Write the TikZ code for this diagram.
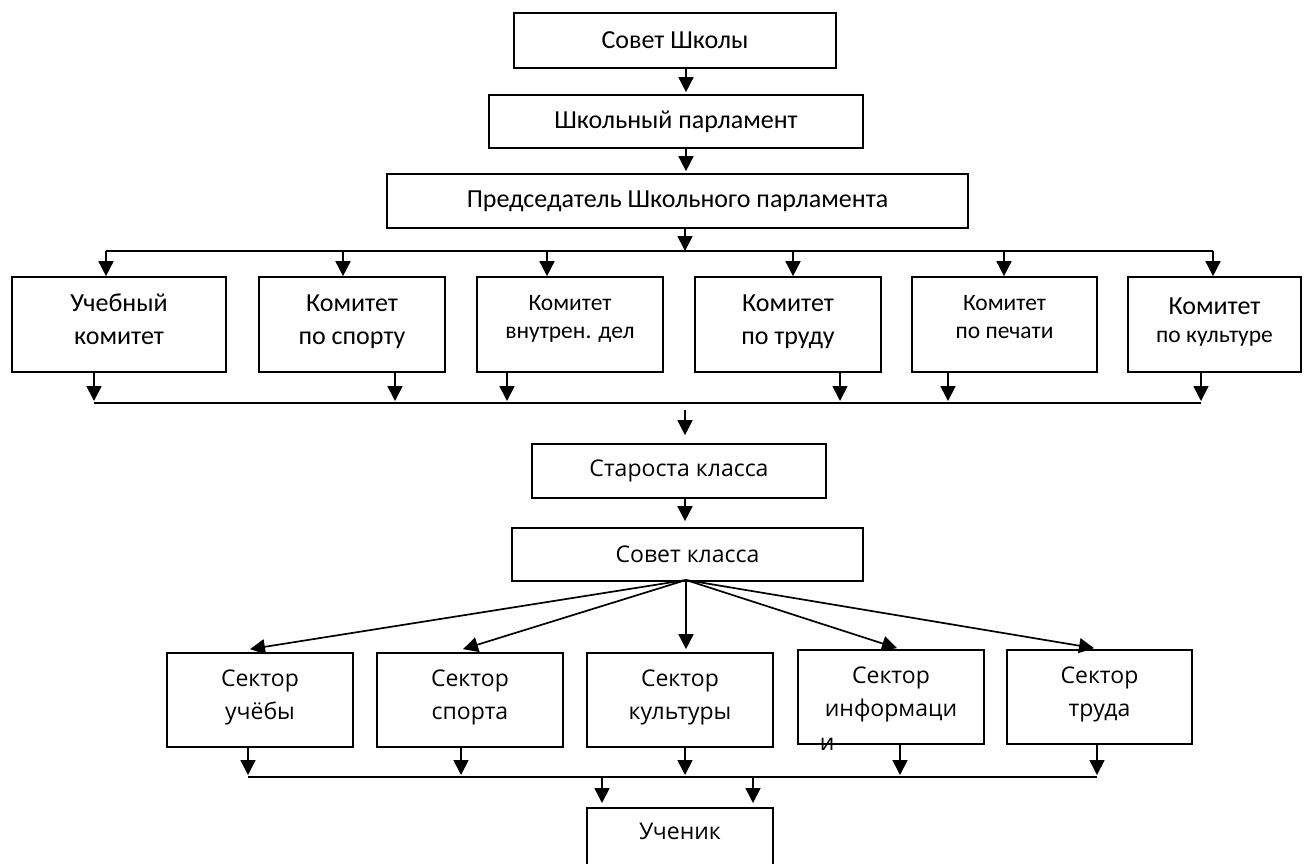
\documentclass[tikz,border=0pt]{standalone}
\usepackage{fontspec}
\setmainfont{Carlito}
\newfontfamily\osans{Open Sans}
\usetikzlibrary{arrows.meta}
\begin{document}
\begin{tikzpicture}[x=1pt,y=-1pt,line width=1.7pt,
  >={Triangle[width=15pt,length=15pt]},
  box/.style={draw, rectangle, inner sep=0pt, align=center},
  big/.style={font=\fontsize{26}{33}\selectfont},
  small/.style={font=\fontsize{23.5}{28}\selectfont},
  os/.style={font=\osans\fontsize{23}{33}\selectfont},
  cbox/.style={box, minimum height=95pt},
  sbox/.style={box, os, minimum height=94pt, text height=53pt, text depth=15pt}]
\useasboundingbox (0,0) rectangle (1306,863);
% top chain
\node[box,big,minimum width=322pt,minimum height=55pt] (b1) at (675,40.5) {Совет Школы};
\node[box,big,minimum width=374pt,minimum height=53pt] (b2) at (676,121.5) {Школьный парламент};
\node[box,big,minimum width=581pt,minimum height=54pt] (b3) at (677.5,201) {Председатель Школьного парламента};
\coordinate (ax) at (686,0);
\draw[->, shorten >=2pt] (b1.south -| ax) -- (b2.north -| ax);
\draw[->, shorten >=2pt] (b2.south -| ax) -- (b3.north -| ax);
% committees
\node[cbox,big,minimum width=214pt,text height=53pt,text depth=14pt] (c1) at (119,324.5) {Учебный\\комитет};
\node[cbox,big,minimum width=186pt,text height=53pt,text depth=14pt] (c2) at (352,324.5) {Комитет\\по спорту};
\node[cbox,small,minimum width=186pt,text height=43pt,text depth=15pt] (c3) at (570,324.5) {Комитет\\внутрен. дел};
\node[cbox,big,minimum width=186pt,text height=53pt,text depth=14pt] (c4) at (788,324.5) {Комитет\\по труду};
\node[cbox,small,minimum width=185pt,text height=43pt,text depth=15pt] (c5) at (1004.5,324.5) {Комитет\\по печати};
\node[cbox,small,minimum width=173pt,text height=47pt,text depth=11pt] (c6) at (1214.5,324.5) {{\fontsize{26}{28}\selectfont Комитет}\\по культуре};
% top bus
\coordinate (t0) at (685,251);
\coordinate (t1) at (106,251);
\coordinate (t2) at (343,251);
\coordinate (t3) at (547,251);
\coordinate (t4) at (793,251);
\coordinate (t5) at (1004,251);
\coordinate (t6) at (1213,251);
\draw (t1) -- (t6);
\draw[->] (b3.south -| t0) -- (t0);
\foreach \i in {1,...,6} \draw[->] (t\i) -- (t\i |- c\i.north);
% bottom bus
\coordinate (d1) at (94,403);
\coordinate (d2) at (395,403);
\coordinate (d3) at (507,403);
\coordinate (d4) at (840,403);
\coordinate (d5) at (948,403);
\coordinate (d6) at (1201,403);
\draw (d1) -- (d6);
\foreach \i in {1,...,6} \draw[->, shorten >=2pt] (d\i |- c\i.south) -- (d\i);
% class level
\node[box,os,minimum width=294pt,minimum height=54pt] (st) at (679,471) {Староста класса};
\node[box,os,minimum width=351pt,minimum height=53pt] (sk) at (687.5,554.5) {Совет класса};
\coordinate (m0) at (685,410);
\draw[->, shorten >=8pt] (m0) -- (m0 |- st.north);
\draw[->, shorten >=6pt] (st.south -| m0) -- (sk.north -| m0);
% sectors
\node[sbox,minimum width=186pt] (s1) at (260,700) {Сектор\\учёбы};
\node[sbox,minimum width=186pt] (s2) at (470,700) {Сектор\\спорта};
\node[sbox,minimum width=186pt] (s3) at (680,700) {Сектор\\культуры};
\node[sbox,minimum width=186pt] (s4) at (891,697) {Сектор\\информаци};
\node[sbox,minimum width=185pt] (s5) at (1099.5,697) {Сектор\\труда};
\node[os, anchor=base west, inner sep=0pt] (s4x) at (819,750) {и};
\coordinate (ap) at (686,580);
\draw[->] (ap) -- ([xshift=-10pt,yshift=3pt]s1.north);
\draw[->] (ap) -- ([xshift=-7pt,yshift=3pt]s2.north);
\draw[->, shorten >=3pt] (ap) -- (ap |- s3.north);
\draw[->] (ap) -- ([xshift=6pt,yshift=1pt]s4.north);
\draw[->] (ap) -- ([xshift=-5.5pt,yshift=1pt]s5.north);
% sector bus
\coordinate (e1) at (248,777);
\coordinate (e2) at (461,777);
\coordinate (e3) at (685,777);
\coordinate (e4) at (900,777);
\coordinate (e5) at (1097,777);
\draw (e1) -- (e5);
\foreach \i in {1,...,5} \draw[->, shorten >=2pt] (e\i |- s\i.south) -- (e\i);
% pupil
\node[box,os,anchor=north,minimum width=186pt,minimum height=94pt,text height=20pt,text depth=50pt] (uc) at (680,807) {Ученик};
\coordinate (u1) at (602,777);
\coordinate (u2) at (753,777);
\draw[->, shorten >=4pt] (u1) -- (u1 |- uc.north);
\draw[->, shorten >=4pt] (u2) -- (u2 |- uc.north);
\end{tikzpicture}
\end{document}
